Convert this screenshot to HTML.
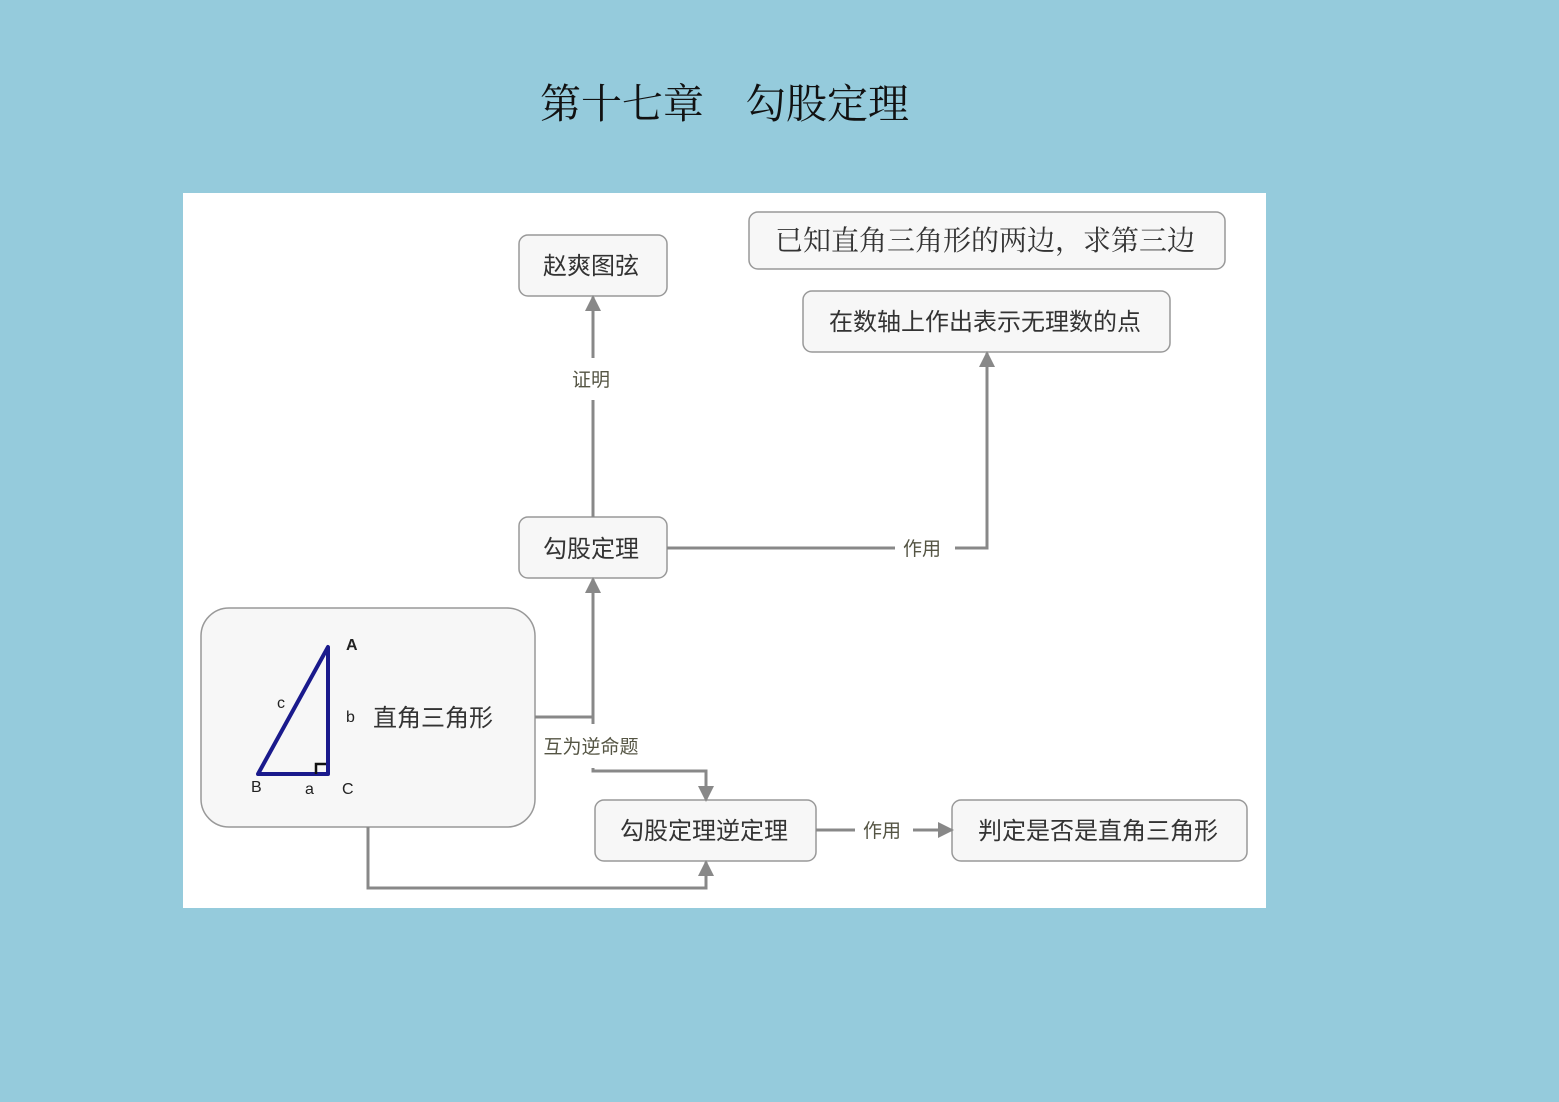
<!DOCTYPE html>
<html><head><meta charset="utf-8"><style>
html,body{margin:0;padding:0;width:1559px;height:1102px;background:#95cbdc;overflow:hidden}
</style></head><body>
<svg width="1559" height="1102" xmlns="http://www.w3.org/2000/svg" style="position:absolute;left:0;top:0">
<defs><marker id="a" markerWidth="16" markerHeight="16" refX="14" refY="8" orient="auto" markerUnits="userSpaceOnUse"><path d="M0,0 L16,8 L0,16 z" fill="#888"/></marker></defs>
<text x="540" y="118" font-family="'Liberation Serif','Noto Serif CJK SC',serif" font-size="41" fill="#111">第十七章　勾股定理</text>
<rect x="183" y="193" width="1083" height="715" fill="#fff"/>
<g fill="#f7f7f7" stroke="#999" stroke-width="1.5">
<rect x="519" y="235" width="148" height="61" rx="9"/>
<rect x="749" y="212" width="476" height="57" rx="9"/>
<rect x="803" y="291" width="367" height="61" rx="9"/>
<rect x="519" y="517" width="148" height="61" rx="9"/>
<rect x="201" y="608" width="334" height="219" rx="28"/>
<rect x="595" y="800" width="221" height="61" rx="9"/>
<rect x="952" y="800" width="295" height="61" rx="9"/>
</g>
<g stroke="#888" stroke-width="3" fill="none">
<path d="M593,517 V400 M593,358 V310"/>
<path d="M593,312 L593,297" marker-end="url(#a)"/>
<path d="M667,548 H895 M955,548 H987 V368"/>
<path d="M987,370 V353" marker-end="url(#a)"/>
<path d="M535,717 H593 V592"/>
<path d="M593,594 V579" marker-end="url(#a)"/>
<path d="M593,717 V724 M593,768 V771 H706 V786"/>
<path d="M706,784 V800" marker-end="url(#a)"/>
<path d="M368,827 V888 H706 V874"/>
<path d="M706,876 V862" marker-end="url(#a)"/>
<path d="M816,830 H855 M913,830 H940"/>
<path d="M936,830 H952" marker-end="url(#a)"/>
</g>
<g font-family="'Liberation Sans','Noto Sans CJK SC',sans-serif" fill="#333" font-size="24">
<text x="591" y="274" text-anchor="middle">赵爽图弦</text>
<text x="985" y="330" text-anchor="middle">在数轴上作出表示无理数的点</text>
<text x="591" y="557" text-anchor="middle">勾股定理</text>
<text x="704" y="839" text-anchor="middle">勾股定理逆定理</text>
<text x="1098" y="839" text-anchor="middle">判定是否是直角三角形</text>
<text x="373" y="726">直角三角形</text>
</g>
<text x="985" y="250" text-anchor="middle" font-family="'Liberation Serif','Noto Serif CJK SC',serif" font-size="28" fill="#333">已知直角三角形的两边，求第三边</text>
<g font-family="'Liberation Sans','Noto Sans CJK SC',sans-serif" fill="#554" font-size="19">
<text x="591" y="386" text-anchor="middle">证明</text>
<text x="922" y="555" text-anchor="middle">作用</text>
<text x="591" y="753" text-anchor="middle">互为逆命题</text>
<text x="882" y="837" text-anchor="middle">作用</text>
</g>
<path d="M328,647 L328,774 L258,774 Z" fill="none" stroke="#1a1a8c" stroke-width="4" stroke-linejoin="round"/>
<path d="M316,774 V764 H326" fill="none" stroke="#111" stroke-width="2.5"/>
<g font-family="'Liberation Sans',sans-serif" font-size="16" fill="#222">
<text x="346" y="650" font-weight="bold">A</text><text x="277" y="708">c</text><text x="346" y="722">b</text>
<text x="251" y="792">B</text><text x="305" y="794">a</text><text x="342" y="794">C</text>
</g>
</svg>
</body></html>
